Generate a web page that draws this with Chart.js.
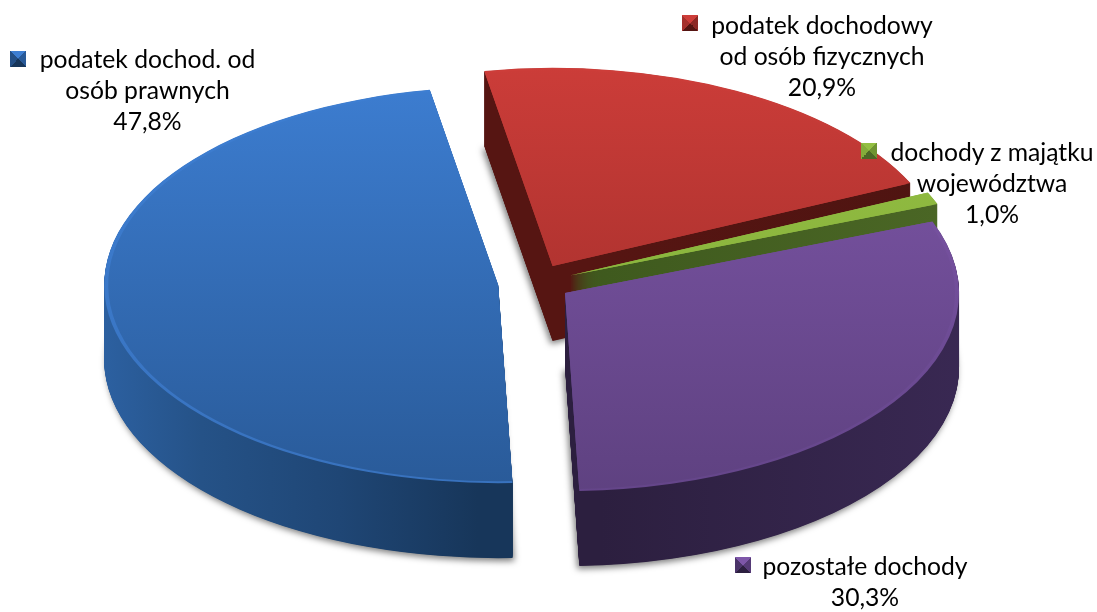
<!DOCTYPE html>
<html>
<head>
<meta charset="utf-8">
<title>Dochody</title>
<script src="https://cdn.jsdelivr.net/npm/chart.js@4"></script>
<style>
  html, body { margin: 0; padding: 0; background: #fff; }
  #wrap { position: relative; width: 1097px; height: 612px; overflow: hidden; }
  #chart { position: absolute; left: 0; top: 0; }
  .label {
    position: absolute; width: 300px; margin-left: -150px;
    text-align: center; font-family: Lato, "Open Sans", sans-serif;
    font-size: 24.7px; line-height: 31px; color: #000; white-space: nowrap;
  }
  .marker { position: absolute; width: 16px; height: 16px; }
</style>
</head>
<body>
<div id="wrap"><canvas id="chart" width="1097" height="612"></canvas></div>
<script>
'use strict';

// ******** DATA **************
const categories = [
  ['podatek dochodowy', 'od osób fizycznych'],
  ['dochody z majątku', 'województwa'],
  ['pozostałe dochody'],
  ['podatek dochod. od', 'osób prawnych']
];
const shares = [20.9, 1.0, 30.3, 47.8];

// ******** STYLE **************
const squash = 0.503;   // pie is drawn flat, then pressed into an ellipse
const depth = 75;       // height of the slab in px
const explodes = [38, 38, 36, 37];  // how far each slice is pulled out
const pieRadius = 394;

const topColors  = [['#cd3d39', '#982b28'], ['#93bf42', '#84ac3a'], ['#7d56a8', '#5e4180'], ['#3d7ed2', '#295a98']];
const rimColors  = [['#cd3d39', '#982b28'], ['#93bf42', '#84ac3a'], ['#7d56a8', '#644589'], ['#3d7ed2', '#3872be']];
const sideColors = [['#561512', '#4e1411'], ['#3f5a1e', '#4c6826'], ['#2c1f3f', '#3a2954'], ['#2f66ab', '#255287', '#1f4675', '#17365a']];
const markerColors = [
  ['#cd3d39', '#8c2825', '#541512', '#a5302c'],
  ['#93bf42', '#6f9432', '#4c6826', '#84ac3a'],
  ['#7d56a8', '#553a76', '#2c1f3f', '#4b3469'],
  ['#3d7ed2', '#295a98', '#17365a', '#234f86']
];
const labelCenters = [[822, 9], [992, 136], [865, 550], [147.5, 43]];
const markerSpots  = [[682, 15], [861, 143], [735, 557], [10, 51]];

// ********* HELPERS ****************
function screenGradient(ctx, cy, colors, y0, y1){
  let g = ctx.createLinearGradient(0, cy + (y0 - cy) / squash, 0, cy + (y1 - cy) / squash);
  g.addColorStop(0, colors[0]);
  g.addColorStop(1, colors[1]);
  return g;
}

function sideGradient(ctx, colors, x0, x1){
  let g = ctx.createLinearGradient(x0, 0, x1, 0);
  colors.forEach(function(c, n){
    g.addColorStop(n / (colors.length - 1), c);
  });
  return g;
}

// draws one arc with its own fill, leaving the real element untouched
function paintArc(ctx, arc, fill, radius){
  let ghost = Object.create(arc);
  ghost.options = Object.assign({}, arc.options, {backgroundColor: fill, borderWidth: 0, offset: 0});
  ghost.outerRadius = radius;
  ghost.draw(ctx);
}

const slabPlugin = {
  id: 'slab',
  beforeDatasetDraw(chart){
    const ctx = chart.ctx;
    const arcs = chart.getDatasetMeta(0).data;
    const cx = arcs[0].x;
    const cy = arcs[0].y;

    ctx.save();
    ctx.translate(cx, cy);
    ctx.scale(1, squash);
    ctx.translate(-cx, -cy);

    [0, 1, 3, 2].forEach(function(i){
      const arc = arcs[i];
      const mid = (arc.startAngle + arc.endAngle) / 2;
      ctx.save();
      ctx.translate(Math.cos(mid) * explodes[i], Math.sin(mid) * explodes[i]);

      const side = sideGradient(ctx, sideColors[i], i === 3 ? 100 : 570, i === 3 ? 515 : 960);
      for (let d = depth; d > 0; d -= 0.5){
        ctx.save();
        ctx.translate(0, d / squash);
        if (d === depth){
          ctx.shadowColor = 'rgba(0,0,0,0.5)';
          ctx.shadowBlur = 6;
          ctx.shadowOffsetX = i === 3 ? 2 : -2;
          ctx.shadowOffsetY = 3;
        }
        paintArc(ctx, arc, side, arc.outerRadius);
        ctx.restore();
      }

      paintArc(ctx, arc, screenGradient(ctx, cy, rimColors[i], 90, 490), arc.outerRadius);
      paintArc(ctx, arc, screenGradient(ctx, cy, topColors[i], 70, 490), arc.outerRadius - 4);
      ctx.restore();
    });

    ctx.restore();
    return false;
  }
};

function renderLabels(){
  const wrap = document.getElementById('wrap');
  categories.forEach(function(lines, i){
    let box = document.createElement('div');
    box.className = 'label';
    box.style.left = labelCenters[i][0] + 'px';
    box.style.top = labelCenters[i][1] + 'px';
    const percent = shares[i].toFixed(1).replace('.', ',') + '%';
    lines.concat(percent).forEach(function(text){
      let row = document.createElement('div');
      row.textContent = text;
      box.appendChild(row);
    });
    wrap.appendChild(box);

    let marker = document.createElement('div');
    marker.className = 'marker';
    marker.style.left = markerSpots[i][0] + 'px';
    marker.style.top = markerSpots[i][1] + 'px';
    const c = markerColors[i];
    marker.style.background = `conic-gradient(from -45deg, ${c[0]} 0 25%, ${c[1]} 25% 50%, ${c[2]} 50% 75%, ${c[3]} 75% 100%)`;
    wrap.appendChild(marker);
  });
}

new Chart(document.getElementById('chart'), {
  type: 'pie',
  data: {
    labels: categories.map(function(lines){ return lines.join(' '); }),
    datasets: [{data: shares, backgroundColor: topColors.map(function(c){ return c[0]; }), borderWidth: 0}]
  },
  options: {
    responsive: false,
    animation: false,
    rotation: -10,
    radius: pieRadius,
    layout: {padding: {right: 27, bottom: 46}},
    plugins: {legend: {display: false}, tooltip: {enabled: false}}
  },
  plugins: [slabPlugin]
});

renderLabels();
</script>
</body>
</html>
